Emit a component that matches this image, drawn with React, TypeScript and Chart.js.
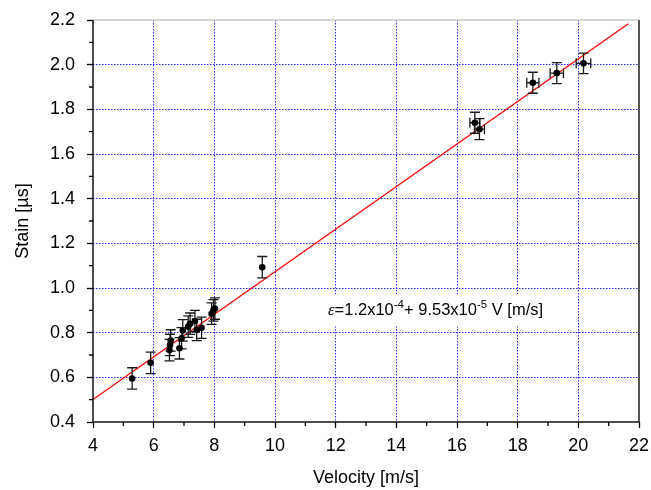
import React, { useEffect, useRef } from "react";
import { Chart, registerables } from "chart.js";

Chart.register(...registerables);

const velocity = [5.29, 5.9, 6.52, 6.54, 6.56, 6.85, 6.92, 6.96, 7.14, 7.2, 7.36, 7.42, 7.58, 7.91, 7.97, 8.02, 9.58, 16.59, 16.74, 18.5, 19.29, 20.17];
const strain = [0.595, 0.665, 0.722, 0.745, 0.765, 0.73, 0.775, 0.81, 0.827, 0.84, 0.852, 0.812, 0.822, 0.885, 0.9, 0.908, 1.093, 1.74, 1.711, 1.919, 1.962, 2.006];
const strainErr = [0.048, 0.048, 0.048, 0.048, 0.048, 0.048, 0.048, 0.048, 0.048, 0.048, 0.048, 0.048, 0.048, 0.048, 0.048, 0.048, 0.048, 0.047, 0.047, 0.047, 0.047, 0.046];
const velocityErr = [0, 0, 0, 0, 0, 0, 0, 0, 0, 0, 0, 0, 0, 0, 0, 0, 0, 0.165, 0.165, 0.2, 0.22, 0.24];

// Linear fit line endpoints
const fitX = [4, 21.65];
const fitY = [0.501, 2.183];

// Annotation
const annotationX = 11.75;
const annotationY = 0.9;

// Axis ticks
const xMin = 4, xMax = 22, xStep = 2, xMinorStep = 1;
const yMin = 0.4, yMax = 2.2, yStep = 0.2, yMinorStep = 0.1;

const FONT = "'Liberation Sans', Arial, sans-serif";
const GRID_BLUE = "#2a2aff";

const near = (a: number, b: number) => Math.abs(a - b) < 1e-6;

const errorBarPlugin = {
  id: "errorBars",
  beforeDatasetDraw(chart: any, args: any) {
    if (args.index !== 0) return;
    const { ctx, scales } = chart;
    const xs = scales.x, ys = scales.y;
    ctx.save();
    ctx.strokeStyle = "#1a1a1a";
    ctx.lineWidth = 1.3;
    const cap = 5;
    for (let i = 0; i < velocity.length; i++) {
      const px = xs.getPixelForValue(velocity[i]);
      const py = ys.getPixelForValue(strain[i]);
      const y1 = ys.getPixelForValue(strain[i] - strainErr[i]);
      const y2 = ys.getPixelForValue(strain[i] + strainErr[i]);
      ctx.beginPath();
      ctx.moveTo(px, y1); ctx.lineTo(px, y2);
      ctx.moveTo(px - cap, y1); ctx.lineTo(px + cap, y1);
      ctx.moveTo(px - cap, y2); ctx.lineTo(px + cap, y2);
      ctx.stroke();
      if (velocityErr[i] > 0) {
        const x1 = xs.getPixelForValue(velocity[i] - velocityErr[i]);
        const x2 = xs.getPixelForValue(velocity[i] + velocityErr[i]);
        ctx.beginPath();
        ctx.moveTo(x1, py); ctx.lineTo(x2, py);
        ctx.moveTo(x1, py - cap); ctx.lineTo(x1, py + cap);
        ctx.moveTo(x2, py - cap); ctx.lineTo(x2, py + cap);
        ctx.stroke();
      }
    }
    ctx.restore();
  },
};

const framePlugin = {
  id: "frame",
  afterDraw(chart: any) {
    const { ctx, chartArea, scales } = chart;
    const { left, right, top, bottom } = chartArea;
    ctx.save();
    // top border
    ctx.strokeStyle = "#c8c8c8";
    ctx.lineWidth = 1.5;
    ctx.beginPath();
    ctx.moveTo(left, top); ctx.lineTo(right, top);
    ctx.stroke();
    // right border
    ctx.strokeStyle = "#555555";
    ctx.lineWidth = 2;
    ctx.beginPath();
    ctx.moveTo(right, top); ctx.lineTo(right, bottom);
    ctx.stroke();
    // left and bottom axis lines
    ctx.strokeStyle = "#111";
    ctx.lineWidth = 1.5;
    ctx.beginPath();
    ctx.moveTo(left, top); ctx.lineTo(left, bottom + 0.75);
    ctx.moveTo(left - 0.75, bottom); ctx.lineTo(right, bottom);
    ctx.stroke();
    // minor ticks
    ctx.strokeStyle = "#000";
    ctx.lineWidth = 1.3;
    ctx.beginPath();
    for (let v = xMin + xMinorStep; v < xMax; v += xMinorStep * 2) {
      const px = scales.x.getPixelForValue(v);
      ctx.moveTo(px, bottom); ctx.lineTo(px, bottom + 4);
    }
    for (let k = 1; yMin + k * yMinorStep < yMax; k += 2) {
      const py = scales.y.getPixelForValue(yMin + k * yMinorStep);
      ctx.moveTo(left, py); ctx.lineTo(left - 4, py);
    }
    ctx.stroke();
    ctx.restore();
  },
};

const annotationPlugin = {
  id: "fitLabel",
  afterDatasetsDraw(chart: any) {
    const { ctx, scales } = chart;
    const x0 = scales.x.getPixelForValue(annotationX);
    const y = scales.y.getPixelForValue(annotationY);
    const main = `16.5px ${FONT}`;
    const sup = `11.5px ${FONT}`;
    const parts: [string, string, number][] = [
      ["\u03b5", `italic 16.5px 'Liberation Serif', 'DejaVu Serif', serif`, 0],
      ["=1.2x10", main, 0],
      ["-4", sup, -6],
      ["+ 9.53x10", main, 0],
      ["-5", sup, -6],
      [" V [m/s]", main, 0],
    ];
    ctx.save();
    let total = 0;
    for (const [t, f] of parts) {
      ctx.font = f;
      total += ctx.measureText(t).width;
    }
    // white label box
    ctx.fillStyle = "#fff";
    ctx.fillRect(x0 - 6, y - 16, total + 12, 32);
    ctx.fillStyle = "#000";
    ctx.textBaseline = "middle";
    ctx.textAlign = "left";
    let x = x0;
    for (const [t, f, dy] of parts) {
      ctx.font = f;
      ctx.fillText(t, x, y + dy);
      x += ctx.measureText(t).width;
    }
    ctx.restore();
  },
};

export default function App() {
  const ref = useRef<HTMLCanvasElement | null>(null);
  useEffect(() => {
    if (!ref.current) return;
    const chart = new Chart(ref.current, {
      type: "scatter",
      data: {
        datasets: [
          {
            type: "scatter",
            data: velocity.map((v, i) => ({ x: v, y: strain[i] })),
            backgroundColor: "#000",
            borderColor: "#000",
            pointRadius: 3.3,
            pointBorderWidth: 0,
          } as any,
          {
            type: "line",
            data: fitX.map((v, i) => ({ x: v, y: fitY[i] })),
            borderColor: "#ff0000",
            borderWidth: 1.3,
            pointRadius: 0,
            fill: false,
          } as any,
        ],
      },
      options: {
        responsive: false,
        animation: false,
        devicePixelRatio: 1,
        layout: { padding: { left: 0, top: 20, right: 12, bottom: 0 } },
        plugins: { legend: { display: false }, tooltip: { enabled: false } },
        scales: {
          x: {
            type: "linear",
            min: xMin,
            max: xMax,
            afterFit: (s: any) => {
              s.height = 68;
              s.paddingLeft = 0;
              s.paddingRight = 0;
            },
            ticks: {
              stepSize: xStep,
              color: "#000",
              font: { family: FONT, size: 18 },
              padding: 7,
              maxRotation: 0,
              autoSkip: false,
            },
            grid: {
              color: (c: any) => {
                const v = c.tick ? c.tick.value : NaN;
                return near(v, xMin) || near(v, xMax) ? "rgba(0,0,0,0)" : GRID_BLUE;
              },
              lineWidth: 1,
              tickLength: 6,
              tickColor: "#000",
              tickWidth: 1.3,
            },
            border: { display: false, dash: [1.5, 1.5] },
            title: {
              display: true,
              text: "Velocity [m/s]",
              color: "#000",
              font: { family: FONT, size: 18 },
              padding: { top: 0, bottom: 1 },
            },
          },
          y: {
            type: "linear",
            min: yMin,
            max: yMax,
            afterFit: (s: any) => {
              s.width = 93;
              s.paddingTop = 0;
              s.paddingBottom = 0;
            },
            ticks: {
              stepSize: yStep,
              color: "#000",
              font: { family: FONT, size: 18 },
              padding: 12,
              callback: (v: any) => Number(v).toFixed(1),
            },
            grid: {
              color: (c: any) => {
                const v = c.tick ? c.tick.value : NaN;
                return near(v, yMin) || near(v, yMax) ? "rgba(0,0,0,0)" : GRID_BLUE;
              },
              lineWidth: 1,
              tickLength: 6,
              tickColor: "#000",
              tickWidth: 1.3,
            },
            border: { display: false, dash: [1.5, 1.5] },
            title: {
              display: true,
              text: "Stain [\u00b5s]",
              color: "#000",
              font: { family: FONT, size: 18 },
              padding: { top: 12, bottom: 0 },
            },
          },
        },
      } as any,
      plugins: [errorBarPlugin, framePlugin, annotationPlugin],
    });
    return () => chart.destroy();
  }, []);
  return (
    <canvas
      ref={ref}
      width={651}
      height={490}
      style={{ position: "absolute", left: 0, top: 0, width: 651, height: 490 }}
    />
  );
}
